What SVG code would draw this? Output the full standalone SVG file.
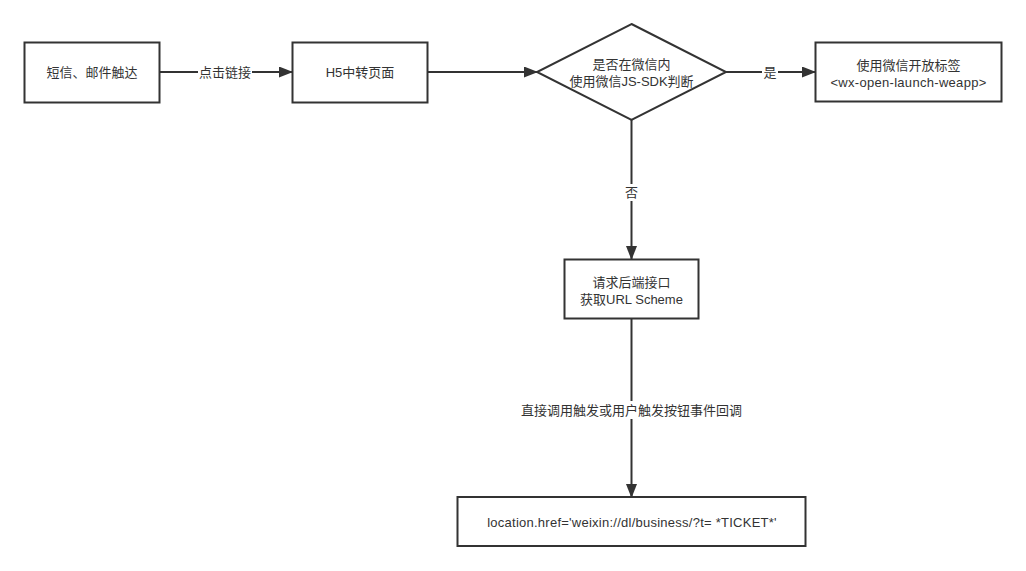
<svg xmlns="http://www.w3.org/2000/svg" width="1026" height="571" viewBox="0 0 1026 571">
<style>
.n{fill:#fff;stroke:#333;stroke-width:2}
.t{font-family:"Liberation Sans","Noto Sans CJK SC",sans-serif;font-size:13px;fill:#333;text-anchor:middle;dominant-baseline:central}
.c{stroke:#333;stroke-width:2;fill:none;marker-end:url(#ah)}
.lb{fill:#fff}
</style>
<defs>
<marker id="ah" viewBox="0 0 14 11" refX="13" refY="5.5" markerWidth="7" markerHeight="5.5" orient="auto" markerUnits="strokeWidth">
<path d="M0,0 L14,5.5 L0,11 Z" fill="#333"/>
</marker>
</defs>
<rect width="1026" height="571" fill="#fff"/>
<g id="connectors">
<line class="c" x1="159" y1="72" x2="292" y2="72"/>
<rect class="lb" x="198" y="64" width="54" height="17"/>
<text class="t" x="225" y="72.5">点击链接</text>
<line class="c" x1="428" y1="72" x2="537" y2="72"/>
<line class="c" x1="726" y1="72" x2="815" y2="72"/>
<rect class="lb" x="762" y="64" width="16" height="17"/>
<text class="t" x="770" y="72.5">是</text>
<line class="c" x1="631.5" y1="120" x2="631.5" y2="259"/>
<rect class="lb" x="623" y="184" width="17" height="17"/>
<text class="t" x="631.5" y="192">否</text>
<line class="c" x1="631.5" y1="318" x2="631.5" y2="497"/>
<rect class="lb" x="520" y="401" width="223" height="18"/>
<text class="t" x="631.5" y="410">直接调用触发或用户触发按钮事件回调</text>
</g>
<g id="n1">
<rect class="n" x="24.5" y="42.5" width="135" height="60"/>
<text class="t" x="92" y="72.5">短信、邮件触达</text>
</g>
<g id="n2">
<rect class="n" x="292.5" y="42.5" width="135" height="60"/>
<text class="t" x="360" y="72.5">H5中转页面</text>
</g>
<g id="n3">
<path class="n" d="M631.5,24 L726,72 L631.5,120 L537,72 Z"/>
<text class="t" x="631.5" y="64">是否在微信内</text>
<text class="t" x="631.5" y="81">使用微信JS-SDK判断</text>
</g>
<g id="n4">
<rect class="n" x="815.5" y="42.5" width="186" height="59"/>
<text class="t" x="908.5" y="65">使用微信开放标签</text>
<text class="t" x="908.5" y="82" letter-spacing="0.3">&lt;wx-open-launch-weapp&gt;</text>
</g>
<g id="n5">
<rect class="n" x="564.5" y="259.5" width="134" height="59"/>
<text class="t" x="631.5" y="282">请求后端接口</text>
<text class="t" x="631.5" y="299">获取URL Scheme</text>
</g>
<g id="n6">
<rect class="n" x="457.5" y="497" width="348" height="49"/>
<text class="t" x="632" y="522" letter-spacing="0.25">location.href='weixin://dl/business/?t= *TICKET*'</text>
</g>
</svg>
